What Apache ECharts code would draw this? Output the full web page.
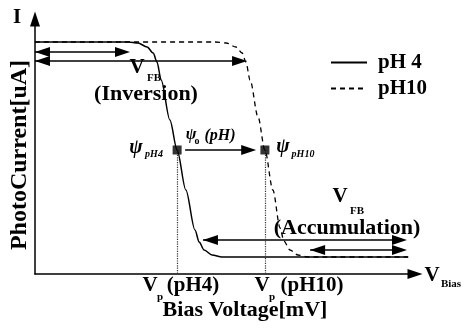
<!DOCTYPE html>
<html>
<head>
<meta charset="utf-8">
<script src="https://cdn.jsdelivr.net/npm/echarts@6/dist/echarts.min.js"></script>
<style>
  html, body { margin: 0; padding: 0; background: #fff; }
  #chart { width: 473px; height: 330px; }
</style>
</head>
<body>
<div id="chart"></div>
<script>
// bias voltage / photocurrent, arbitrary units (0..100)
const seriesNames = ['pH 4', 'pH10']
const ph4Curve = [
  [0, 92.8], [24.5, 92.8], [27.1, 92.4], [29.5, 90.8], [31.1, 88.4], [32.1, 84.8],
  [33.2, 77.6], [35.5, 61.6], [37.4, 49.6], [39.7, 33.6], [42.1, 17.6], [43.2, 12.8],
  [44.5, 9.6], [46.6, 7.6], [49.2, 6.8], [98.2, 6.8],
]
const ph10Curve = [
  [0, 92.8], [47.4, 92.8], [50.3, 92.4], [52.9, 90.8], [54.5, 88.4], [55.5, 84.8],
  [56.6, 77.6], [58.7, 62.8], [60.5, 49.6], [62.6, 33.6], [64.5, 18.4], [65.5, 13.2],
  [67.1, 9.6], [69.2, 7.6], [71.8, 6.8], [98.2, 6.8],
]
// inflection points psi_pH4 / psi_pH10
const pinchPoints = [[37.4, 49.6], [60.5, 49.6]]
// arrows: [from, to, level, heads]  heads 2 = both ends, 1 = end only
const shiftArrows = [
  [0, 25.0, 88.8, 2],
  [0, 55.8, 85.2, 2],
  [39.5, 58.2, 49.6, 1],
  [44.2, 97.9, 13.6, 2],
  [72.4, 97.9, 9.6, 2],
]

const FONT = '"Liberation Serif", "Times New Roman", serif'
const chart = echarts.init(document.getElementById('chart'))

// 文字标注
function label(text, x, y, size, extra) {
  return {
    type: 'text',
    x,
    y,
    style: Object.assign({
      text,
      font: `bold ${size}px ${FONT}`,
      fill: '#000',
      align: 'center',
      verticalAlign: 'middle',
      textAlign: 'center',
      textVerticalAlign: 'middle',
    }, extra || {}),
  }
}
function italic(text, x, y, size, extra) {
  const el = label(text, x, y, size, extra)
  el.style.font = `italic bold ${size}px ${FONT}`
  return el
}

function renderArrow(params, api) {
  const a = api.coord([api.value(0), api.value(2)])
  const b = api.coord([api.value(1), api.value(2)])
  const heads = api.value(3)
  const L = 15
  const W = 5
  const children = [
    { type: 'line', shape: { x1: a[0], y1: a[1], x2: b[0] - 4, y2: b[1] }, style: { stroke: '#000', lineWidth: 1.3 } },
    { type: 'polygon', shape: { points: [[b[0], b[1]], [b[0] - L, b[1] - W], [b[0] - L, b[1] + W]] }, style: { fill: '#000' } },
  ]
  if (heads === 2) {
    children.push({ type: 'polygon', shape: { points: [[a[0], a[1]], [a[0] + L, a[1] - W], [a[0] + L, a[1] + W]] }, style: { fill: '#000' } })
  }
  return { type: 'group', children }
}

const axisCommon = {
  type: 'value',
  axisTick: { show: false },
  axisLabel: { show: false },
  splitLine: { show: false },
  axisLine: {
    show: true,
    symbol: ['none', 'triangle'],
    symbolSize: [10, 15],
    lineStyle: { color: '#000', width: 1.5 },
  },
}

const yTitle = label('PhotoCurrent[uA]', 20, 155, 24)
yTitle.rotation = Math.PI / 2

chart.setOption({
  animation: false,
  backgroundColor: '#fff',
  grid: { left: 35, top: 19, width: 380, height: 255 },
  xAxis: Object.assign({}, axisCommon, { min: 0, max: 100 }),
  yAxis: Object.assign({}, axisCommon, { min: 0, max: 102 }),
  legend: {
    orient: 'vertical',
    left: 325,
    top: 47,
    itemWidth: 36,
    itemHeight: 12,
    itemGap: 5,
    data: seriesNames,
    itemStyle: { opacity: 0 },
    textStyle: { fontFamily: FONT, fontWeight: 'bold', fontSize: 21, color: '#000', padding: [0, 0, 0, 6] },
  },
  series: [
    {
      name: seriesNames[0],
      type: 'line',
      data: ph4Curve,
      smooth: 0.3,
      smoothMonotone: 'x',
      symbol: 'none',
      lineStyle: { color: '#000', width: 1.5 },
      itemStyle: { color: '#000' },
    },
    {
      name: seriesNames[1],
      type: 'line',
      data: ph10Curve,
      smooth: 0.3,
      smoothMonotone: 'x',
      symbol: 'none',
      lineStyle: { color: '#000', width: 1.3, type: [5, 4] },
      itemStyle: { color: '#000' },
    },
    {
      type: 'custom',
      data: shiftArrows,
      renderItem: renderArrow,
      clip: false,
      silent: true,
    },
    {
      type: 'scatter',
      data: pinchPoints,
      symbol: 'rect',
      symbolSize: 9,
      itemStyle: { color: '#000' },
      z: 5,
      markLine: {
        silent: true,
        symbol: 'none',
        label: { show: false },
        lineStyle: { color: '#333', width: 1.2, type: 'dotted' },
        data: pinchPoints.map(p => [{ coord: p }, { coord: [p[0], 0] }]),
      },
    },
  ],
  graphic: [
    label('I', 17, 18, 21),
    yTitle,
    label('V', 137, 68, 21),
    label('FB', 154, 78, 11),
    label('(Inversion)', 146, 94, 22),
    italic('ψ', 136, 148, 20),
    italic('pH4', 154, 154, 10),
    italic('ψ', 191, 135, 16),
    label('o', 197, 141, 10),
    italic('(pH)', 220, 136, 16),
    italic('ψ', 283, 147, 20),
    italic('pH10', 303, 154, 10),
    label('V', 340, 197, 21),
    label('FB', 357, 211, 11),
    label('(Accumulation)', 347, 228, 22),
    label('V', 150, 286, 21),
    label('p', 160, 297, 11),
    label('(pH4)', 193, 286, 21),
    label('V', 262, 286, 21),
    label('p', 272, 297, 11),
    label('(pH10)', 312, 286, 21),
    label('Bias Voltage[mV]', 245, 310, 22),
    label('V', 432, 276, 21),
    label('Bias', 451, 284, 11),
  ],
})
</script>
</body>
</html>
